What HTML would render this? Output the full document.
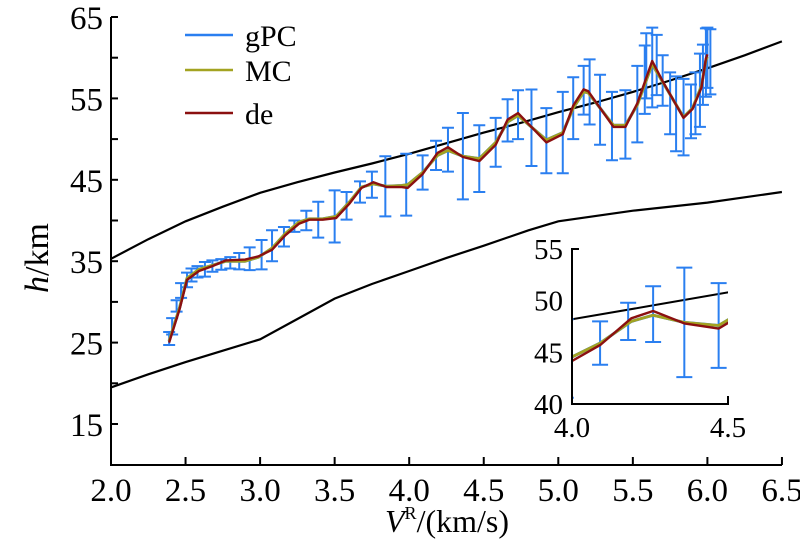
<!DOCTYPE html>
<html><head><meta charset="utf-8"><style>
body{margin:0;background:#fff}
svg{display:block}
text{font-family:"Liberation Serif","DejaVu Serif",serif}
</style></head><body>
<svg id="chart" width="800" height="550" viewBox="0 0 800 550" xmlns="http://www.w3.org/2000/svg" font-family="Liberation Serif, serif">
<g id="main"></g>
<g id="inset"></g>
<g>
 <line x1="185" y1="35" x2="233" y2="35" stroke="#2a7ff0" stroke-width="2.5"/>
 <text x="245" y="46" font-size="30">gPC</text>
 <line x1="185" y1="70" x2="233" y2="70" stroke="#a3a321" stroke-width="2.5"/>
 <text x="245" y="81" font-size="30">MC</text>
 <line x1="185" y1="113" x2="233" y2="113" stroke="#8b1010" stroke-width="2.5"/>
 <text x="245" y="124" font-size="30">de</text>
</g>
<text x="447" y="532" font-size="32" text-anchor="middle"><tspan font-style="italic">V</tspan><tspan font-size="18" dy="-13">R</tspan><tspan dy="13">/(km/s)</tspan></text>
<text transform="translate(48,258) rotate(-90)" font-size="34" text-anchor="middle"><tspan font-style="italic">h</tspan>/km</text>
</svg>
<script>
const xTicks=[2.0,2.5,3.0,3.5,4.0,4.5,5.0,5.5,6.0,6.5];
const yTicks=[15,25,35,45,55,65];
const yMinor=[20,30,40,50,60];
const upperX=[2.0,2.25,2.5,2.75,3.0,3.25,3.5,3.75,4.0,4.25,4.5,4.75,5.0,5.25,5.5,5.75,6.0,6.25,6.5];
const upperY=[35.3,37.7,39.9,41.7,43.4,44.7,45.9,47.0,48.2,49.5,50.8,52.0,53.3,54.5,55.8,57.2,58.7,60.3,62.0];
const lowerX=[2.0,2.25,2.5,2.75,3.0,3.25,3.5,3.75,4.0,4.25,4.5,4.8,5.0,5.5,6.0,6.5];
const lowerY=[19.5,21.1,22.6,24.0,25.4,27.9,30.4,32.2,33.8,35.4,36.9,38.8,39.9,41.2,42.2,43.5];
const deX=[2.39,2.46,2.51,2.59,2.68,2.77,2.90,2.99,3.08,3.17,3.26,3.33,3.42,3.51,3.60,3.68,3.76,3.85,3.95,3.99,4.09,4.19,4.26,4.36,4.47,4.58,4.66,4.73,4.92,5.03,5.10,5.17,5.20,5.37,5.45,5.53,5.63,5.70,5.84,5.90,5.96,5.99,6.00];
const deY=[25.0,29.1,32.7,33.8,34.4,35.1,35.2,35.6,36.4,38.2,39.6,40.1,40.1,40.3,42.1,44.0,44.7,44.1,44.1,44.0,45.7,48.3,49.0,47.8,47.3,49.3,52.4,53.2,49.6,50.6,54.1,56.1,55.9,51.5,51.5,54.4,59.6,57.1,52.6,53.7,56.3,59.9,60.4];
const mcY=[25.2,29.3,32.9,34.0,34.5,35.0,35.0,35.5,36.6,38.4,39.8,40.2,40.2,40.5,42.3,44.1,44.5,44.2,44.3,44.4,45.9,48.0,48.6,47.9,47.6,49.6,52.1,52.9,49.9,50.8,53.8,55.8,55.7,51.7,51.7,54.2,59.2,57.0,52.7,53.8,56.5,59.7,60.1];
const gpcX=[2.39,2.41,2.44,2.47,2.51,2.54,2.58,2.63,2.68,2.74,2.80,2.86,2.93,3.01,3.08,3.16,3.23,3.31,3.39,3.50,3.58,3.67,3.75,3.84,3.98,4.09,4.18,4.26,4.36,4.47,4.58,4.66,4.73,4.82,4.92,5.03,5.10,5.17,5.21,5.28,5.36,5.45,5.53,5.58,5.59,5.63,5.66,5.70,5.75,5.79,5.84,5.89,5.92,5.95,5.97,5.99,6.00,6.02];
const gpcY=[25.5,27.0,29.5,31.4,32.7,33.3,33.7,34.0,34.4,34.6,34.8,35.0,35.3,35.8,36.9,38.0,39.3,40.0,40.1,40.5,41.8,43.5,44.4,44.2,44.4,45.9,48.0,48.7,47.9,47.6,49.6,52.3,53.0,51.4,49.8,50.8,53.8,56.0,55.8,53.6,51.6,51.8,54.3,57.3,59.0,58.8,59.1,57.2,54.4,53.1,52.7,53.4,54.4,56.0,57.9,59.4,60.0,59.5];
const gpcErr=[0.8,1.0,0.7,0.9,0.9,0.8,0.7,0.9,0.7,0.65,0.7,1.0,1.4,1.8,1.9,1.2,0.7,1.2,2.2,3.2,1.7,1.3,1.6,3.7,3.8,2.1,1.8,2.7,5.3,4.1,3.0,2.6,3.0,4.7,4.0,5.0,3.8,3.0,4.0,4.3,4.2,4.2,4.7,4.2,4.0,4.9,3.7,3.1,3.8,4.6,4.7,3.3,3.8,4.5,3.7,4.2,3.7,4.0];

const NS='http://www.w3.org/2000/svg';
function mk(parent,tag,attrs){const e=document.createElementNS(NS,tag);for(const k in attrs)e.setAttribute(k,attrs[k]);parent.appendChild(e);return e;}
const X=v=>111+(v-2)*149.1;
const Y=v=>17+(65-v)*8.14;
const IX=v=>572+(v-4)*312;
const IY=v=>404-(v-40)*10.33;
function path(xs,ys,sx,sy){return xs.map((x,i)=>(i?'L':'M')+sx(x).toFixed(1)+' '+sy(ys[i]).toFixed(1)).join(' ');}

function drawSeries(g,sx,sy,cap){
  for(let i=0;i<gpcX.length;i++){
    const x=sx(gpcX[i]),y1=sy(gpcY[i]+gpcErr[i]),y2=sy(gpcY[i]-gpcErr[i]);
    const bar=mk(g,'path',{d:`M${x} ${y1}V${y2}M${x-cap} ${y1}H${x+cap}M${x-cap} ${y2}H${x+cap}`,stroke:'#2a7ff0','stroke-width':2,fill:'none'});
    
    
  }
  const gl=mk(g,'path',{d:path(deX,mcY,sx,sy),stroke:'#2a7ff0','stroke-width':3,fill:'none','stroke-linejoin':'round'});
  
  
  const ml=mk(g,'path',{d:path(deX,mcY,sx,sy),stroke:'#a3a321','stroke-width':2.8,fill:'none','stroke-linejoin':'round'});
  
  
  const dl=mk(g,'path',{d:path(deX,deY,sx,sy),stroke:'#8b1010','stroke-width':2.4,fill:'none','stroke-linejoin':'round'});
  
  
}

const main=document.getElementById('main');
const up=mk(main,'path',{d:path(upperX,upperY,X,Y),stroke:'#000','stroke-width':2.2,fill:'none'});


const lo=mk(main,'path',{d:path(lowerX,lowerY,X,Y),stroke:'#000','stroke-width':2.2,fill:'none'});


drawSeries(main,X,Y,6);
const ax=mk(main,'path',{d:'M111 17V465H782',stroke:'#000','stroke-width':2,fill:'none'});


xTicks.forEach(t=>{
  const x=X(t);
  if(t>2){const tk=mk(main,'line',{x1:x,y1:465,x2:x,y2:457,stroke:'#000','stroke-width':2});
  
  }
  const l=mk(main,'text',{x:x,y:501,'font-size':33,'text-anchor':'middle','font-family':'Liberation Serif, serif'});
  l.textContent=t.toFixed(1);
  
  
});
yTicks.concat(yMinor).forEach(t=>{
  const tk=mk(main,'line',{x1:111,y1:Y(t),x2:118,y2:Y(t),stroke:'#000','stroke-width':2});
  
  
});
yTicks.forEach(t=>{
  const l=mk(main,'text',{x:103,y:Y(t)+12,'font-size':33,'text-anchor':'end','font-family':'Liberation Serif, serif'});
  l.textContent=t;
  
  
});

const inset=document.getElementById('inset');
const defs=mk(inset,'defs',{});
const cp=mk(defs,'clipPath',{id:'ic'});
mk(cp,'rect',{x:572,y:240,width:156,height:164});
const ig=mk(inset,'g',{'clip-path':'url(#ic)'});
const iu=mk(ig,'path',{d:path(upperX,upperY,IX,IY),stroke:'#000','stroke-width':2,fill:'none'});


drawSeries(ig,IX,IY,8);
const iax=mk(inset,'path',{d:'M579 249H572V404H728V396',stroke:'#000','stroke-width':2,fill:'none'});


[[40,'40'],[45,'45'],[50,'50'],[55,'55']].forEach(([v,s])=>{
  const l=mk(inset,'text',{x:563,y:IY(v)+10,'font-size':29,'text-anchor':'end','font-family':'Liberation Serif, serif'});
  l.textContent=s;
  
  
});
[[4.0,'4.0'],[4.5,'4.5']].forEach(([v,s])=>{
  const l=mk(inset,'text',{x:IX(v),y:437,'font-size':29,'text-anchor':'middle','font-family':'Liberation Serif, serif'});
  l.textContent=s;
  
  
});
</script>
</body></html>
